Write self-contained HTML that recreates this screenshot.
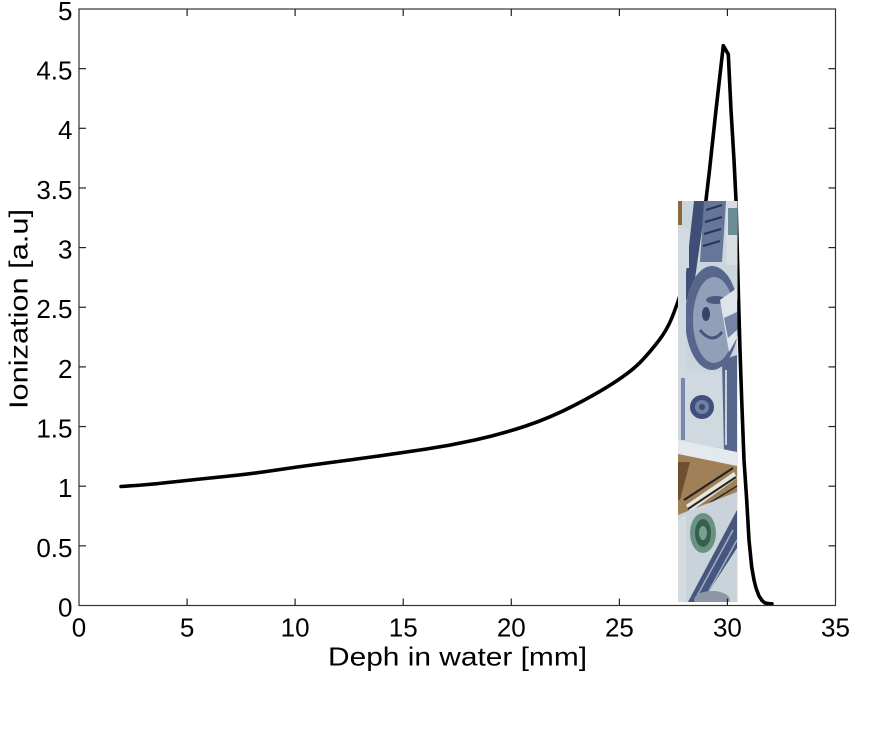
<!DOCTYPE html>
<html>
<head>
<meta charset="utf-8">
<style>
  html, body { margin: 0; padding: 0; background: #ffffff; }
  svg { display: block; }
  text { font-family: "Liberation Sans", Arial, sans-serif; fill: #000; }
</style>
</head>
<body>
<svg width="888" height="736" viewBox="0 0 888 736" xmlns="http://www.w3.org/2000/svg">
  <rect x="0" y="0" width="888" height="736" fill="#ffffff"/>

  <!-- curve -->
  <path fill="none" stroke="#000" stroke-width="3.6" stroke-linejoin="round" stroke-linecap="round"
    d="M121,486.5 L135.5,485.5 Q150,484.5 175,481.75 Q200,479 225,476.5 Q250,474 275,470.25 Q300,466.5 325,463.25 Q350,460 375,456.5 Q400,453 425,449.25 Q450,445.5 475,440 Q500,434.5 525,426.25 Q550,418 575,405 Q600,392 616.5,381 Q633,370 641.5,361 Q650,352 658.5,341 Q667,330 672,317.5 Q677,305 683.5,285 L690,265 L700,225 L706,200 L709.3,172 L716,110 L723.3,45.7 L728.3,54.3 L731,110 L734,160 L736,200 L738,280 L740,350 L741.7,400 L744,460 L746.7,500 L749,540 L751.7,567 L754,580 L756,588 L759,596 L762,600.5 L765,603 L770,603.8 L772,603.8"/>

  <!-- money image approximation -->
  <defs>
    <clipPath id="imgclip"><rect x="678" y="201" width="59.5" height="401"/></clipPath>
  </defs>
  <g clip-path="url(#imgclip)">
    <rect x="678" y="201" width="60" height="401" fill="#cbd5dc"/>
    <rect x="678" y="201" width="4" height="24" fill="#8a6a3a"/>
    <polygon points="694,201 706,201 692,300 683,300" fill="#3e4e76"/>
    <polygon points="704,201 726,201 722,262 700,262" fill="#66769a"/>
    <line x1="706" y1="210" x2="722" y2="205" stroke="#25335a" stroke-width="2"/>
    <line x1="705" y1="222" x2="722" y2="217" stroke="#25335a" stroke-width="2"/>
    <line x1="704" y1="234" x2="721" y2="229" stroke="#25335a" stroke-width="2"/>
    <line x1="703" y1="246" x2="720" y2="241" stroke="#25335a" stroke-width="2"/>
    <rect x="726" y="201" width="12" height="64" fill="#d6dee4"/>
    <rect x="728" y="208" width="9" height="27" fill="#6a8e94"/>
    <rect x="679" y="228" width="10" height="40" fill="#d2dbe2"/>
    <ellipse cx="712" cy="318" rx="27" ry="52" fill="#56668c"/>
    <ellipse cx="714" cy="320" rx="21" ry="43" fill="#929fb8"/>
    <ellipse cx="706" cy="314" rx="4" ry="7" fill="#34436a"/>
    <ellipse cx="716" cy="300" rx="10" ry="4" fill="#4a5a80"/>
    <path d="M700,330 Q712,345 722,332" stroke="#44547a" stroke-width="3" fill="none"/>
    <rect x="678" y="265" width="8" height="110" fill="#d0d9e0"/>
    <polygon points="720,300 737,288 737,338 729,352" fill="#dde4ea"/>
    <polygon points="724,318 737,312 737,330 728,338" fill="#7484a6"/>
    <rect x="678" y="372" width="45" height="75" fill="#d0d8e0"/>
    <rect x="681" y="378" width="4" height="62" fill="#7a88aa"/>
    <circle cx="702" cy="407" r="12" fill="#40507c"/>
    <circle cx="702" cy="407" r="7" fill="#7280a4"/>
    <circle cx="702" cy="407" r="3" fill="#3a4a72"/>
    <polygon points="722,360 737,355 737,452 724,450" fill="#56668c"/>
    <line x1="726" y1="370" x2="726" y2="445" stroke="#c8d2da" stroke-width="2"/>
    <polygon points="678,440 737,452 737,466 678,454" fill="#e4e9ed"/>
    <polygon points="678,454 737,466 737,492 678,515" fill="#a08058"/>
    <polygon points="678,462 690,462 680,500 678,500" fill="#6d5030"/>
    <polygon points="686,505 734,472 737,478 690,512" fill="#e6e6e0"/>
    <line x1="684" y1="500" x2="733" y2="468" stroke="#222" stroke-width="2"/>
    <line x1="688" y1="509" x2="736" y2="477" stroke="#222" stroke-width="2"/>
    <line x1="690" y1="515" x2="737" y2="486" stroke="#2a2a2a" stroke-width="1.5"/>
    <polygon points="678,515 737,492 737,602 678,602" fill="#cad3da"/>
    <ellipse cx="703" cy="533" rx="13" ry="20" fill="#6a9282"/>
    <ellipse cx="703" cy="533" rx="8" ry="14" fill="#35604e"/>
    <ellipse cx="703" cy="533" rx="4" ry="7" fill="#7a9e90"/>
    <polygon points="737,510 737,548 702,602 688,602" fill="#46567e"/>
    <line x1="733" y1="530" x2="697" y2="596" stroke="#a2aec4" stroke-width="1.5"/>
    <line x1="737" y1="540" x2="704" y2="600" stroke="#a2aec4" stroke-width="1.5"/>
    <ellipse cx="712" cy="600" rx="18" ry="9" fill="#8c96a6"/>
    <polygon points="678,520 686,515 686,602 678,602" fill="#d4dce2"/>
  </g>

  <!-- axes box -->
  <rect x="79" y="9" width="756.5" height="596.5" fill="none" stroke="#333" stroke-width="1.2"/>

  <!-- x ticks -->
  <g stroke="#222" stroke-width="1.2">
    <line x1="187.1" y1="605.5" x2="187.1" y2="598.5"/><line x1="187.1" y1="9" x2="187.1" y2="16"/>
    <line x1="295.1" y1="605.5" x2="295.1" y2="598.5"/><line x1="295.1" y1="9" x2="295.1" y2="16"/>
    <line x1="403.2" y1="605.5" x2="403.2" y2="598.5"/><line x1="403.2" y1="9" x2="403.2" y2="16"/>
    <line x1="511.3" y1="605.5" x2="511.3" y2="598.5"/><line x1="511.3" y1="9" x2="511.3" y2="16"/>
    <line x1="619.4" y1="605.5" x2="619.4" y2="598.5"/><line x1="619.4" y1="9" x2="619.4" y2="16"/>
    <line x1="727.4" y1="605.5" x2="727.4" y2="598.5"/><line x1="727.4" y1="9" x2="727.4" y2="16"/>
  </g>
  <!-- y ticks -->
  <g stroke="#222" stroke-width="1.2">
    <line x1="79" y1="545.85" x2="86" y2="545.85"/><line x1="835.5" y1="545.85" x2="828.5" y2="545.85"/>
    <line x1="79" y1="486.2" x2="86" y2="486.2"/><line x1="835.5" y1="486.2" x2="828.5" y2="486.2"/>
    <line x1="79" y1="426.55" x2="86" y2="426.55"/><line x1="835.5" y1="426.55" x2="828.5" y2="426.55"/>
    <line x1="79" y1="366.9" x2="86" y2="366.9"/><line x1="835.5" y1="366.9" x2="828.5" y2="366.9"/>
    <line x1="79" y1="307.25" x2="86" y2="307.25"/><line x1="835.5" y1="307.25" x2="828.5" y2="307.25"/>
    <line x1="79" y1="247.6" x2="86" y2="247.6"/><line x1="835.5" y1="247.6" x2="828.5" y2="247.6"/>
    <line x1="79" y1="187.95" x2="86" y2="187.95"/><line x1="835.5" y1="187.95" x2="828.5" y2="187.95"/>
    <line x1="79" y1="128.3" x2="86" y2="128.3"/><line x1="835.5" y1="128.3" x2="828.5" y2="128.3"/>
    <line x1="79" y1="68.65" x2="86" y2="68.65"/><line x1="835.5" y1="68.65" x2="828.5" y2="68.65"/>
  </g>

  <!-- x tick labels -->
  <g font-size="26" text-anchor="middle">
    <text x="79" y="636.5">0</text>
    <text x="187.1" y="636.5">5</text>
    <text x="295.1" y="636.5">10</text>
    <text x="403.2" y="636.5">15</text>
    <text x="511.3" y="636.5">20</text>
    <text x="619.4" y="636.5">25</text>
    <text x="727.4" y="636.5">30</text>
    <text x="835.5" y="636.5">35</text>
  </g>
  <!-- y tick labels -->
  <g font-size="26" text-anchor="end">
    <text x="72.5" y="616.5">0</text>
    <text x="72.5" y="556.8">0.5</text>
    <text x="72.5" y="497.1">1</text>
    <text x="72.5" y="437.5">1.5</text>
    <text x="72.5" y="377.8">2</text>
    <text x="72.5" y="318.2">2.5</text>
    <text x="72.5" y="258.5">3</text>
    <text x="72.5" y="198.9">3.5</text>
    <text x="72.5" y="139.2">4</text>
    <text x="72.5" y="79.5">4.5</text>
    <text x="72.5" y="20">5</text>
  </g>

  <!-- axis labels -->
  <text x="328" y="665.5" font-size="26" textLength="259" lengthAdjust="spacingAndGlyphs">Deph in water [mm]</text>
  <text transform="translate(27.5,409) rotate(-90)" x="0" y="0" font-size="26" textLength="200" lengthAdjust="spacingAndGlyphs">Ionization [a.u]</text>
</svg>
</body>
</html>
